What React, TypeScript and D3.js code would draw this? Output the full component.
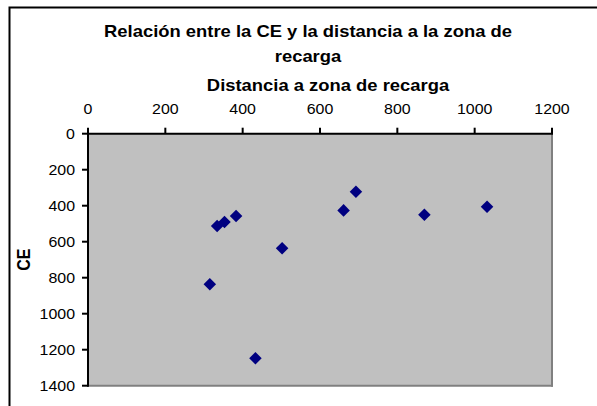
import React from "react";
import * as d3 from "d3";

const distance = [315, 334, 353, 383, 433, 502, 661, 693, 870, 1032];
const ce = [837, 513, 490, 457, 1248, 637, 426, 322, 450, 406];
const xTicks = [0, 200, 400, 600, 800, 1000, 1200];
const yTicks = [0, 200, 400, 600, 800, 1000, 1200, 1400];
const titleLines = ["Relación entre la CE y la distancia a la zona de", "recarga"];
const xTitle = "Distancia a zona de recarga";
const yTitle = "CE";

const W = 597;
const H = 406;
const plot = { left: 88, right: 552, top: 133.7, bottom: 385.7 };
const SX_T = 1.15;
const SX_L = 1.1;
const FONT = "Arial, 'Liberation Sans', sans-serif";

export default function App() {
  const x = d3.scaleLinear().domain([0, 1200]).range([plot.left, plot.right]);
  const y = d3.scaleLinear().domain([0, 1400]).range([plot.top, plot.bottom]);
  const diamond = d3.symbol().type(d3.symbolDiamond2).size(100)();
  const stretched = (tx: number, ty: number, s: number) => `translate(${tx},${ty}) scale(${s},1)`;

  return (
    <svg width={W} height={H} style={{ position: "absolute", left: 0, top: 0 }} fontFamily={FONT}>
      <rect x={0} y={0} width={W} height={H} fill="#fff" />
      <rect x={9.5} y={7.5} width={700} height={500} fill="none" stroke="#000" strokeWidth={2} />
      <rect
        x={plot.left}
        y={plot.top}
        width={plot.right - plot.left}
        height={plot.bottom - plot.top}
        fill="#C0C0C0"
      />
      <line x1={plot.right} x2={plot.right} y1={plot.top} y2={plot.bottom + 1} stroke="#808080" strokeWidth={2} />
      <line x1={plot.left} x2={plot.right + 1} y1={plot.bottom} y2={plot.bottom} stroke="#808080" strokeWidth={2} />
      <line x1={plot.left} x2={plot.right + 1} y1={plot.top} y2={plot.top} stroke="#000" strokeWidth={2} />
      <line x1={plot.left} x2={plot.left} y1={plot.top - 1} y2={plot.bottom + 1} stroke="#000" strokeWidth={2} />

      {xTicks.map((t) => (
        <g key={"x" + t}>
          <line x1={x(t)} x2={x(t)} y1={plot.top} y2={plot.top - 6} stroke="#000" strokeWidth={2} />
          <text transform={stretched(x(t), 113.5, SX_L)} textAnchor="middle" fontSize={14.5} fill="#000">
            {t}
          </text>
        </g>
      ))}
      {yTicks.map((t) => (
        <g key={"y" + t}>
          <line x1={plot.left} x2={plot.left - 6} y1={y(t)} y2={y(t)} stroke="#000" strokeWidth={2} />
          <text transform={stretched(75, y(t) + 5.2, SX_L)} textAnchor="end" fontSize={14.5} fill="#000">
            {t}
          </text>
        </g>
      ))}

      {titleLines.map((l, i) => (
        <text
          key={l}
          transform={stretched(308, 37 + i * 25, SX_T)}
          textAnchor="middle"
          fontSize={16}
          fontWeight="bold"
          fill="#000"
        >
          {l}
        </text>
      ))}
      <text transform={stretched(328, 91, SX_T)} textAnchor="middle" fontSize={16} fontWeight="bold" fill="#000">
        {xTitle}
      </text>
      <text
        transform={`translate(30,${(plot.top + plot.bottom) / 2}) rotate(-90) scale(1,${SX_T})`}
        textAnchor="middle"
        fontSize={16}
        fontWeight="bold"
        fill="#000"
      >
        {yTitle}
      </text>

      {distance.map((d, i) => (
        <path key={i} d={diamond} transform={`translate(${x(d)},${y(ce[i])})`} fill="#000080" />
      ))}
    </svg>
  );
}
